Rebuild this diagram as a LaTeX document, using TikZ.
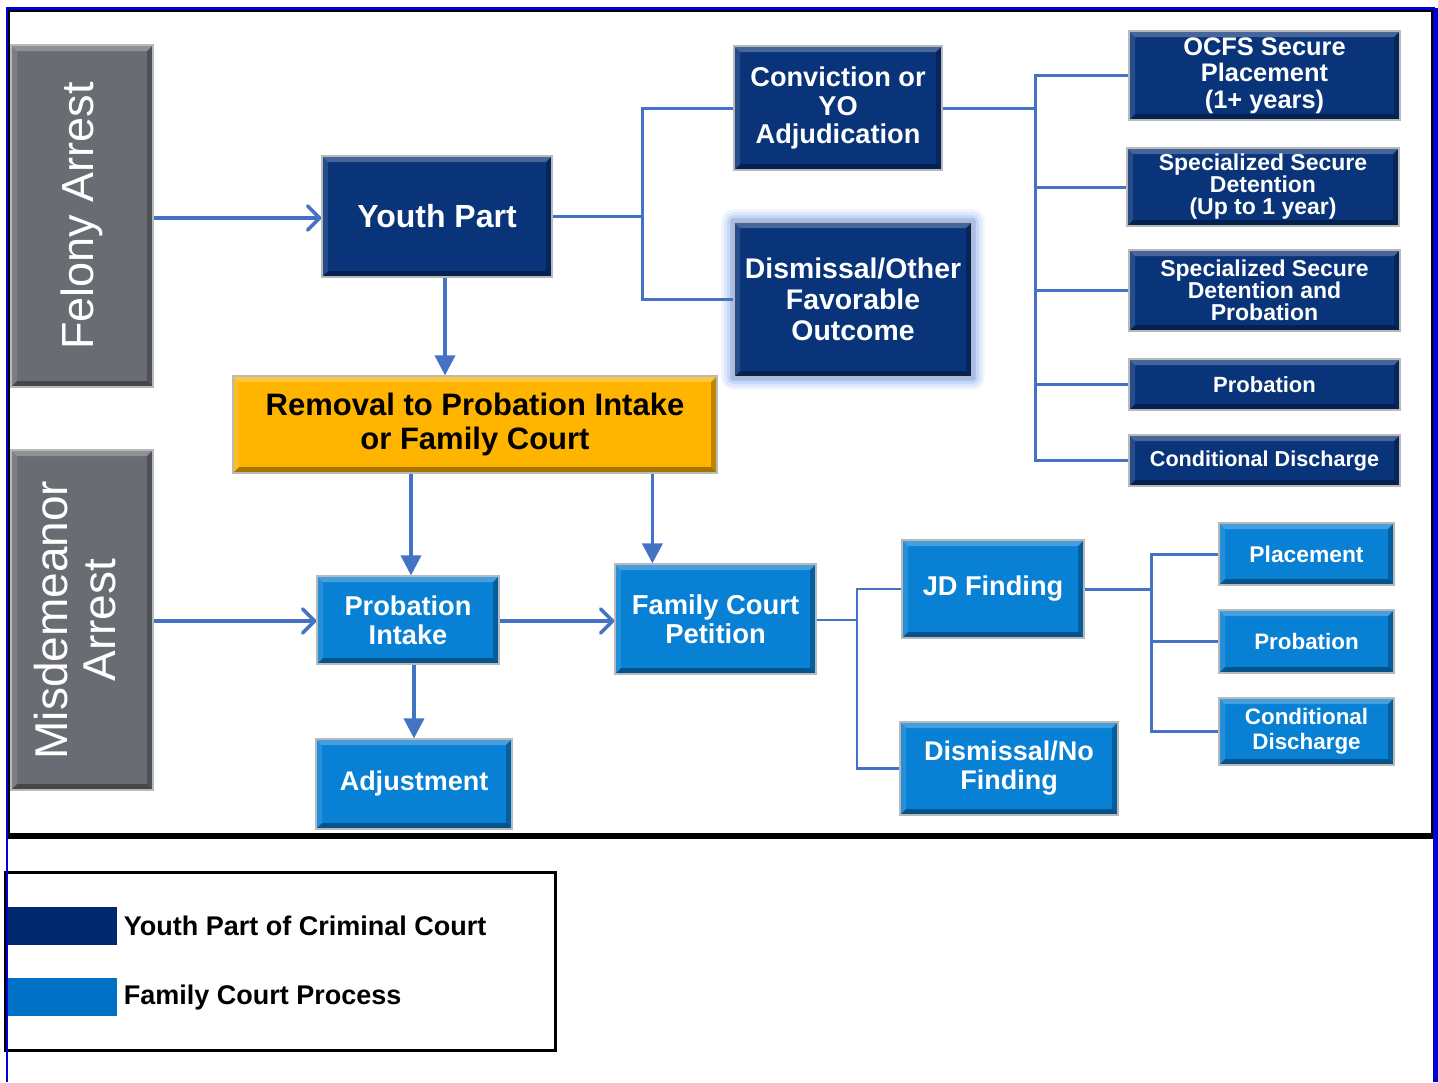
\documentclass[tikz,border=0pt]{standalone}
\usepackage{fontspec}
\setmainfont{Liberation Sans}
\usetikzlibrary{arrows.meta}
\definecolor{navy}{RGB}{9,52,122}
\definecolor{legnavy}{RGB}{0,40,110}
\definecolor{fcblue}{RGB}{8,128,212}
\definecolor{legblue}{RGB}{0,114,198}
\definecolor{arrestgray}{RGB}{105,109,115}
\definecolor{remyellow}{RGB}{255,180,0}
\definecolor{connblue}{RGB}{68,114,196}
\definecolor{frameblue}{RGB}{0,0,210}
\definecolor{glowc}{RGB}{90,140,230}
\newcommand\myfs[2]{\fontsize{#1}{#2}\selectfont}
\tikzset{
  bevel/.style={path picture={
    \coordinate (pnw) at (path picture bounding box.north west);
    \coordinate (pne) at (path picture bounding box.north east);
    \coordinate (psw) at (path picture bounding box.south west);
    \coordinate (pse) at (path picture bounding box.south east);
    \fill[white,opacity=0.25] (pnw) -- (pne) -- ([shift={(-3pt,-3pt)}]pne) -- ([shift={(3pt,-3pt)}]pnw) -- cycle;
    \fill[black,opacity=0.35] (psw) -- (pse) -- ([shift={(-3pt,3pt)}]pse) -- ([shift={(3pt,3pt)}]psw) -- cycle;
    \fill[black,opacity=0.25] (pne) -- (pse) -- ([shift={(-3pt,3pt)}]pse) -- ([shift={(-3pt,-3pt)}]pne) -- cycle;
    \fill[white,opacity=0.12] (pnw) -- (psw) -- ([shift={(3pt,3pt)}]psw) -- ([shift={(3pt,-3pt)}]pnw) -- cycle;
  }},
  box/.style={rectangle, inner sep=1pt, draw=gray!55, line width=0.6pt, text=white, align=center, bevel},
  navybox/.style={box, fill=navy},
  fcbox/.style={box, fill=fcblue},
  graybox/.style={box, fill=arrestgray},
  yellowbox/.style={box, fill=remyellow, text=black},
  conn/.style={draw=connblue, line width=1.8pt},
  tline/.style={draw=connblue, line width=1.5pt},
  arr/.style={conn, -{Straight Barb[length=6pt,width=12pt,line width=1.8pt,round]}},
  darr/.style={conn, -{Triangle[length=10pt,width=10pt]}},
}
\begin{document}
\begin{tikzpicture}[x=0.5pt,y=-0.5pt]
\useasboundingbox (0,0) rectangle (1438,1082);
\fill[white] (0,0) rectangle (1438,1082);

% inner black frame of the diagram area
\draw[black, line width=0.7pt] (9,836) -- (9,11) -- (1432,11) -- (1432,836);
\draw[black, line width=2.8pt] (7,836) -- (1434,836);

% arrest boxes
\node[graybox, minimum width=71pt, minimum height=171pt] (fel) at (82,216)
  {\rotatebox{90}{\myfs{22.5}{24}Felony Arrest}};
\node[graybox, minimum width=71pt, minimum height=170pt] (mis) at (82,620)
  {\rotatebox{90}{\myfs{23}{24}\begin{tabular}{@{}c@{}}Misdemeanor\\Arrest\end{tabular}}};

% youth part (criminal court)
\node[navybox, minimum width=115pt, minimum height=60.5pt, font=\bfseries\myfs{16}{17}] (yp) at (437,216.5) {Youth Part};
\node[navybox, minimum width=104pt, minimum height=62pt, font=\bfseries\myfs{13.6}{14.3}] (conv) at (838,108) {Conviction or\\YO\\Adjudication};
\foreach \d/\o in {1/0.55,2.5/0.35,4/0.2,5.5/0.1}
  \draw[glowc, opacity=\o, line width=1.6pt, rounded corners=\d pt]
    (734-\d*2,222-\d*2) rectangle (972+\d*2,377+\d*2);
\node[navybox, minimum width=119pt, minimum height=77.5pt, font=\bfseries\myfs{14.2}{15.5}] (dism) at (853,299.5) {Dismissal/Other\\Favorable\\Outcome};

\node[navybox, minimum width=135.5pt, minimum height=44.5pt, font=\bfseries\myfs{12.7}{13.3}] (ocfs) at (1264.5,75.5) {OCFS Secure\\Placement\\(1+ years)};
\node[navybox, minimum width=136pt, minimum height=39pt, font=\bfseries\myfs{11.5}{11}] (ssd) at (1263,187) {Specialized Secure\\Detention\\(Up to 1 year)};
\node[navybox, minimum width=135.5pt, minimum height=40.5pt, font=\bfseries\myfs{11.5}{11}] (ssdp) at (1264.5,290.5) {Specialized Secure\\Detention and\\Probation};
\node[navybox, minimum width=135.5pt, minimum height=25.5pt, font=\bfseries\myfs{11}{12}] (prob1) at (1264.5,384.5) {Probation};
\node[navybox, minimum width=135.5pt, minimum height=25.5pt, font=\bfseries\myfs{10.8}{12}] (cd1) at (1264.5,460.5) {Conditional Discharge};

% removal
\node[yellowbox, minimum width=242pt, minimum height=48.5pt, font=\bfseries\myfs{15.5}{17}] (rem) at (475,424.5) {Removal to Probation Intake\\or Family Court};

% family court process
\node[fcbox, minimum width=91pt, minimum height=44pt, font=\bfseries\myfs{13.6}{14.5}] (pi) at (408,620) {Probation\\Intake};
\node[fcbox, minimum width=100.5pt, minimum height=55pt, font=\bfseries\myfs{13.7}{14.5}] (fcp) at (715.5,619) {Family Court\\Petition};
\node[fcbox, minimum width=98pt, minimum height=45pt, font=\bfseries\myfs{13.5}{14.5}] (adj) at (414,784) {Adjustment};
\node[fcbox, minimum width=91pt, minimum height=49pt, font=\bfseries\myfs{13.6}{14.5}] (jd) at (993,589) {JD Finding};
\node[fcbox, minimum width=109pt, minimum height=46.5pt, font=\bfseries\myfs{13.5}{14.5}] (dnf) at (1009,768.5) {Dismissal/No\\Finding};
\node[fcbox, minimum width=87.5pt, minimum height=31pt, font=\bfseries\myfs{11.4}{12.5}] (plc) at (1306.5,554) {Placement};
\node[fcbox, minimum width=87.5pt, minimum height=31.5pt, font=\bfseries\myfs{11.2}{12.5}] (prob2) at (1306.5,641.5) {Probation};
\node[fcbox, minimum width=87.5pt, minimum height=33.5pt, font=\bfseries\myfs{11.2}{12.5}] (cd2) at (1306.5,731.5) {Conditional\\Discharge};

% connectors
\draw[arr] (fel.east |- 0,218) -- (yp.west |- 0,218);
\draw[darr] ([xshift=4pt]yp.south) -- ([xshift=4pt]yp.south |- rem.north);
\coordinate (j1) at (642,216.5);
\draw[tline] (yp.east) -- (j1);
\draw[tline] (conv.west) -| (j1) |- (dism.west);

\coordinate (j2) at (1035,108);
\draw[tline] (conv.east) -- (j2);
\draw[tline] (ocfs.west) -| (j2) |- (cd1.west);
\draw[tline] (ssd.west) -- (ssd.west -| j2);
\draw[tline] (ssdp.west) -- (ssdp.west -| j2);
\draw[tline] (prob1.west) -- (prob1.west -| j2);

\draw[darr] ([xshift=1.5pt]pi.north |- rem.south) -- ([xshift=1.5pt]pi.north);
\draw[darr] ([xshift=19pt]fcp.north west |- rem.south) -- ([xshift=19pt]fcp.north west);
\draw[arr] (mis.east |- 0,621) -- (pi.west |- 0,621);
\draw[arr] (pi.east |- 0,621) -- (fcp.west |- 0,621);
\draw[darr] (adj.north |- pi.south) -- (adj.north);

\coordinate (j3) at (857,620);
\draw[tline, line width=1.3pt] (fcp.east |- j3) -- (j3);
\draw[tline, line width=1.3pt] (jd.west) -| (j3) |- (dnf.west);

\coordinate (j4) at (1151,589);
\draw[tline] (jd.east) -- (j4);
\draw[tline] (plc.west) -| (j4) |- (cd2.west);
\draw[tline] (prob2.west) -- (prob2.west -| j4);

% legend
\node[draw=black, line width=1.5pt, minimum width=275pt, minimum height=89pt, inner sep=0pt] (leg) at (280,961) {};
\node[fill=legnavy, minimum width=54.5pt, minimum height=19pt, inner sep=0pt] (sw1) at (62.5,926) {};
\node[fill=legblue, minimum width=54.5pt, minimum height=19pt, inner sep=0pt] (sw2) at (62.5,997) {};
\node[anchor=west, inner sep=0pt, font=\bfseries\myfs{13.5}{15}] (lt1) at ([xshift=3pt]sw1.east) {Youth Part of Criminal Court};
\node[anchor=west, inner sep=0pt, font=\bfseries\myfs{13.5}{15}] (lt2) at ([xshift=3pt]sw2.east) {Family Court Process};

% outer blue frame
\draw[frameblue, line width=1.5pt] (6,8.5) -- (1435,8.5);
\draw[frameblue, line width=1pt] (7,8) -- (7,1082);
\draw[frameblue, line width=2.5pt] (1435,8) -- (1435,1082);
\end{tikzpicture}
\end{document}
